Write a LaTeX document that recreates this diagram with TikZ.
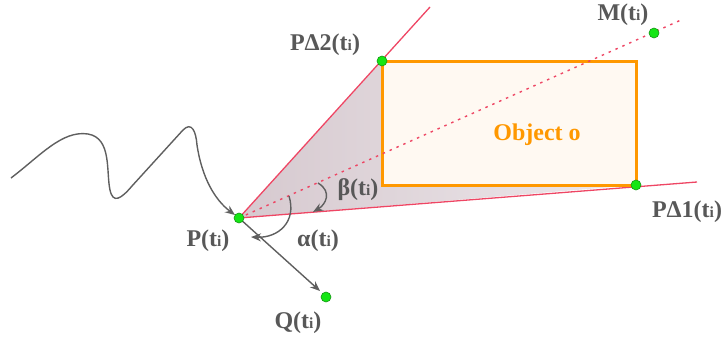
\documentclass[tikz,border=0pt]{standalone}
\usepackage{fontspec}
\setmainfont{Liberation Serif}
\usetikzlibrary{arrows.meta}
\definecolor{lbl}{RGB}{88,88,88}
\definecolor{redl}{RGB}{238,70,100}
\definecolor{orng}{RGB}{255,152,0}
\definecolor{cream}{RGB}{255,249,242}
\definecolor{gpt}{RGB}{20,230,20}
\definecolor{gptd}{RGB}{20,150,20}
\definecolor{shadeA}{RGB}{214,201,207}
\definecolor{shadeB}{RGB}{238,233,236}
\definecolor{curvec}{RGB}{95,95,95}
\newcommand{\tsub}{t{\fontsize{15.5}{15.5}\selectfont i}}
\tikzset{
  pt/.style={circle,fill=gpt,draw=gptd,line width=0.6pt,inner sep=0pt,minimum size=10pt},
  lab/.style={text=lbl,font=\fontsize{24}{28}\selectfont\bfseries,inner sep=0pt},
  garrow/.style={draw=curvec,line width=1.4pt,-{Stealth[length=10pt,width=8pt]}},
  redline/.style={draw=redl,line width=1.3pt},
}
\begin{document}
\begin{tikzpicture}[x=1pt,y=-1pt]
\useasboundingbox (0,0) rectangle (725,341);
\coordinate (P) at (239,218);
\coordinate (D2) at (382,61);
\coordinate (D1) at (636,185);
\coordinate (Mc) at (654,33);
\coordinate (Qc) at (326,297);
% shaded wedge
\shade[left color=shadeA,right color=shadeB] (P) -- (D2) -- (D1) -- cycle;
% red lines
\coordinate (U) at (430,7);
\coordinate (L) at (697,182);
\coordinate (Dend) at (681,20);
\draw[redline] (P) -- (U);
\draw[redline] (P) -- (L);
% rectangle
\node[draw=orng,fill=cream,line width=3pt,minimum width=254pt,minimum height=124pt,inner sep=0pt] (obj) at (509,123) {};
\draw[draw=redl,line width=1.4pt,dash pattern=on 2.5pt off 5pt] (P) -- (Dend);
\node[text=orng,font=\fontsize{24}{28}\selectfont\bfseries,inner sep=0pt] (objl) at (537,135) {Object o};
% trajectory
\coordinate (S) at (11,178);
\draw[garrow] (S) .. controls (40,156) and (62,130) .. (88,134)
  .. controls (112,138) and (106,172) .. (110,190)
  .. controls (113,204) and (121,199) .. (132,186)
  -- (183,130) .. controls (192,121) and (196,132) .. (197,145)
  .. controls (202,178) and (215,200) .. (235,215);
% to Q
\draw[garrow] (P) -- (320,291);
% alpha arc
\coordinate (a1) at (289,196);
\coordinate (a2) at (251,237);
\draw[garrow] (a1) .. controls (297,222) and (278,238) .. (a2);
% beta arc
\coordinate (b1) at (318,183);
\coordinate (b2) at (313,212);
\draw[garrow] (b1) .. controls (333,192) and (325,205) .. (b2);
% points
\node[pt] (Pn) at (P) {};
\node[pt] (D2n) at (D2) {};
\node[pt] (D1n) at (D1) {};
\node[pt] (Mn) at (Mc) {};
\node[pt] (Qn) at (Qc) {};
% labels
\node[lab] (lD2) at (325,45) {PΔ2(\tsub)};
\node[lab] (lM) at (623,15) {M(\tsub)};
\node[lab] (lD1) at (687,212) {PΔ1(\tsub)};
\node[lab] (lP) at (208,241) {P(\tsub)};
\node[lab] (lA) at (318,241) {α(\tsub)};
\node[lab] (lB) at (358,190) {β(\tsub)};
\node[lab] (lQ) at (298,323) {Q(\tsub)};
\end{tikzpicture}
\end{document}
